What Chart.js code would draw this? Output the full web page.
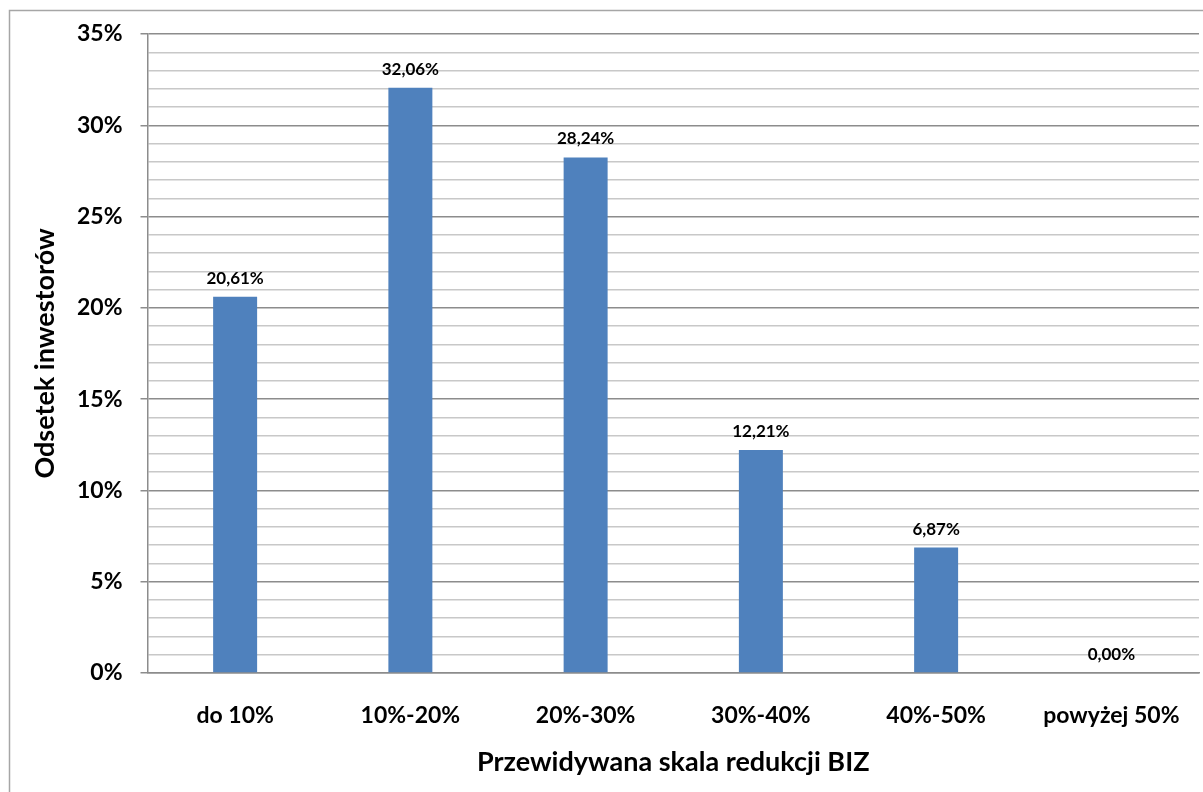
<!DOCTYPE html>
<html>
<head>
<meta charset="utf-8">
<script src="https://cdn.jsdelivr.net/npm/chart.js@4"></script>
<style>
  html, body { margin: 0; padding: 0; background: #fff; }
  #wrap { width: 1203px; height: 792px; }
</style>
</head>
<body>
<div id="wrap"><canvas id="bizChart" width="1203" height="792"></canvas></div>
<script>
// Data
const categories = ['do 10%', '10%-20%', '20%-30%', '30%-40%', '40%-50%', 'powyżej 50%'];
const shares = [20.61, 32.06, 28.24, 12.21, 6.87, 0.00];
const yMax = 35;
const yLabelStep = 5;

const FONT = 'Lato, "Open Sans", sans-serif';

// Frame around the whole chart (only top and left are visible in the picture)
const framePlugin = {
    id: 'frame',
    beforeDraw(chart) {
        const ctx = chart.ctx;
        ctx.save();
        ctx.strokeStyle = '#a6a6a6';
        ctx.lineWidth = 1.5;
        ctx.strokeRect(9.5, 10.5, 1200, 800);
        ctx.restore();
    }
};

// Value labels above the bars
const valueLabels = {
    id: 'valueLabels',
    afterDatasetsDraw(chart) {
        const ctx = chart.ctx;
        const meta = chart.getDatasetMeta(0);
        ctx.save();
        ctx.font = 'bold 17px ' + FONT;
        ctx.fillStyle = '#000';
        ctx.textAlign = 'center';
        ctx.textBaseline = 'bottom';
        meta.data.forEach((bar, i) => {
            const txt = shares[i].toFixed(2).replace('.', ',') + '%';
            ctx.fillText(txt, bar.x, bar.y - 10);
        });
        ctx.restore();
    }
};

const ctx = document.getElementById('bizChart').getContext('2d');
const bizChart = new Chart(ctx, {
    type: 'bar',
    data: {
        labels: categories,
        datasets: [{
            data: shares,
            backgroundColor: '#4f81bd',
            borderWidth: 0,
            categoryPercentage: 1,
            barPercentage: 0.251
        }]
    },
    options: {
        responsive: false,
        animation: false,
        layout: {
            padding: { top: 34, right: 4, left: 0, bottom: 0 }
        },
        plugins: {
            legend: { display: false },
            tooltip: { enabled: false }
        },
        scales: {
            x: {
                grid: { display: false, drawTicks: false },
                border: { display: true, color: '#8c8c8c', width: 1.5 },
                ticks: {
                    color: '#000',
                    font: { family: FONT, size: 23, weight: 'bold' },
                    padding: 29,
                    maxRotation: 0
                },
                title: {
                    display: true,
                    text: 'Przewidywana skala redukcji BIZ',
                    color: '#000',
                    font: { family: FONT, size: 27, weight: 'bold' },
                    padding: { top: 0, bottom: 14 }
                },
                afterFit(scale) {
                    scale.height = 119;
                    scale.paddingLeft = 0;
                    scale.paddingRight = 0;
                }
            },
            y: {
                min: 0,
                max: yMax,
                grid: {
                    color: c => (c.tick && c.tick.value % yLabelStep === 0) ? '#8c8c8c' : '#c8c8c8',
                    tickColor: c => (c.tick && c.tick.value % yLabelStep === 0) ? '#8c8c8c' : 'rgba(0,0,0,0)',
                    lineWidth: 1.5,
                    tickLength: 7
                },
                border: { display: true, color: '#8c8c8c', width: 1.5 },
                ticks: {
                    stepSize: 1,
                    autoSkip: false,
                    color: '#000',
                    padding: 18,
                    font: { family: FONT, size: 23, weight: 'bold' },
                    callback: v => (v % yLabelStep === 0) ? v + '%' : ''
                },
                title: {
                    display: true,
                    text: 'Odsetek inwestorów',
                    color: '#000',
                    font: { family: FONT, size: 27, weight: 'bold' },
                    padding: { top: 29, bottom: 0 }
                },
                afterFit(scale) {
                    scale.width = 147.5;
                    scale.paddingTop = 0;
                    scale.paddingBottom = 0;
                }
            }
        }
    },
    plugins: [framePlugin, valueLabels]
});
</script>
</body>
</html>
